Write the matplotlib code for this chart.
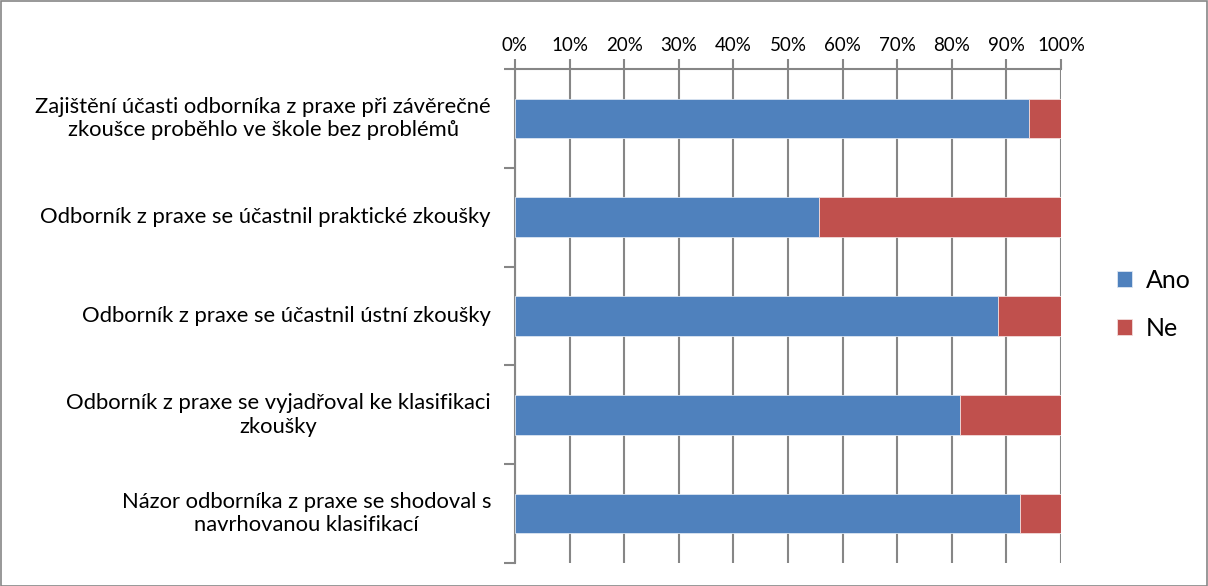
import matplotlib
matplotlib.use("Agg")
import matplotlib.pyplot as plt
import numpy as np
from matplotlib.patches import Rectangle

plt.rcParams['font.family'] = ['Lato', 'DejaVu Sans']

categories = [
    "Zajištění účasti odborníka z praxe při závěrečné\nzkoušce proběhlo ve škole bez problémů",
    "Odborník z praxe se účastnil praktické zkoušky",
    "Odborník z praxe se účastnil ústní zkoušky",
    "Odborník z praxe se vyjadřoval ke klasifikaci\nzkoušky",
    "Názor odborníka z praxe se shodoval s\nnavrhovanou klasifikací",
]
ano = [94.1, 55.6, 88.5, 81.5, 92.5]
ne = [100 - v for v in ano]
series_names = ["Ano", "Ne"]
xticks = list(range(0, 101, 10))
xtick_labels = [f"{t}%" for t in xticks]

blue = "#4F81BD"
red = "#C0504D"
grid = "#868686"

fig = plt.figure(figsize=(12.08, 5.86), dpi=100)
ax = fig.add_axes([515/1208, 1 - 563/586, (1061-515)/1208, (563-69)/586])

y = np.arange(len(categories))
ax.barh(y, ano, height=0.4, color=blue, edgecolor="#DCE6F2", linewidth=0.6, label=series_names[0], zorder=3)
ax.barh(y, ne, left=ano, height=0.4, color=red, edgecolor="#F2DCDB", linewidth=0.6, label=series_names[1], zorder=3)

ax.set_xlim(0, 100)
ax.set_ylim(len(categories) - 0.5, -0.5)
ax.xaxis.tick_top()
ax.set_xticks(xticks)
ax.set_xticklabels(xtick_labels, fontsize=13.5, color="#000000")
ax.tick_params(axis='x', direction='out', length=7, width=1.5, color=grid, pad=4)
ax.set_yticks(np.arange(-0.5, len(categories), 1.0))
ax.set_yticklabels([])
ax.tick_params(axis='y', which='major', direction='out', length=8, width=1.5, color=grid)
for yi, cat in zip(y, categories):
    ax.text(-24/546, yi, cat, transform=ax.get_yaxis_transform(), ha='right', va='center',
            multialignment='center', fontsize=15.8, linespacing=1.22)
ax.grid(axis='x', color=grid, linewidth=1.5, zorder=0)
for side in ['right', 'bottom']:
    ax.spines[side].set_visible(False)
for side in ['left', 'top']:
    ax.spines[side].set_color(grid)
    ax.spines[side].set_linewidth(1.5)

leg = fig.legend(loc='upper left', bbox_to_anchor=(1107/1208, 1 - 259/586), frameon=False,
                 fontsize=18, handlelength=0.6, handleheight=0.6, labelspacing=1.0,
                 handletextpad=0.55, borderaxespad=0)

fig.patches.append(Rectangle((0.5/1208, 0.5/586), 1 - 1.5/1208, 1 - 1.5/586, transform=fig.transFigure,
                             fill=False, edgecolor=grid, linewidth=1.2))
fig.savefig("out.png", dpi=100)
